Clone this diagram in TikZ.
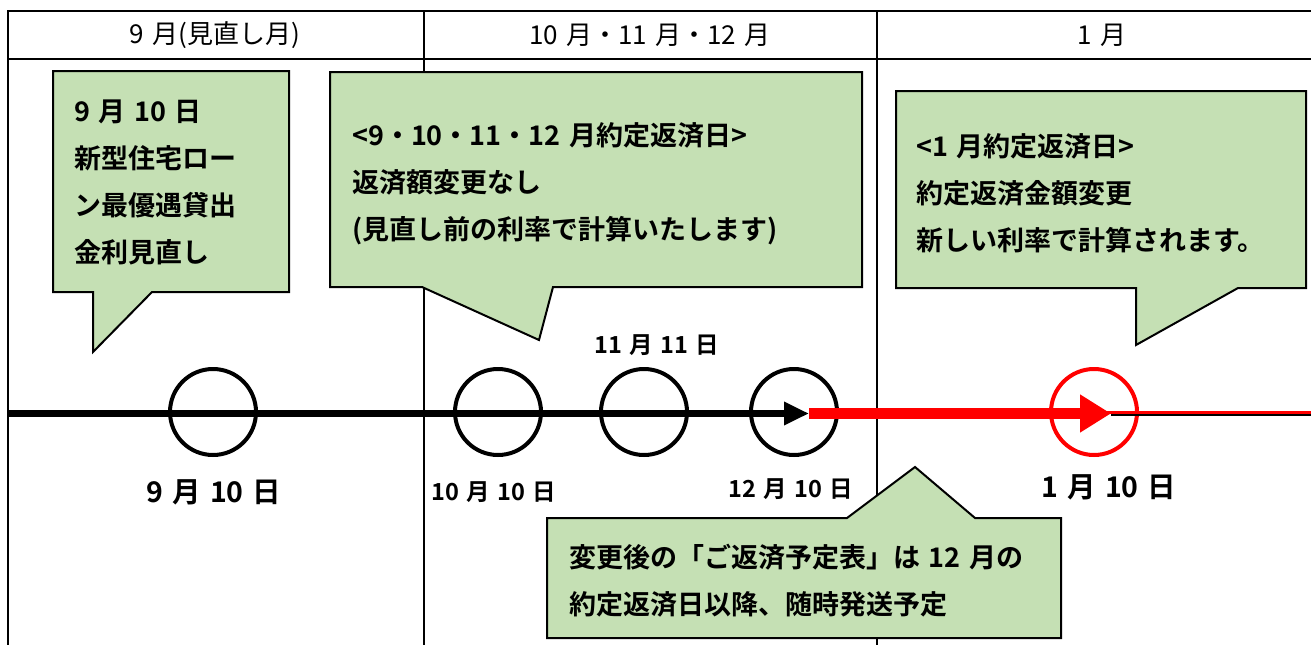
\documentclass[tikz,border=0pt]{standalone}
\usepackage{fontspec}
\setmainfont{Noto Sans CJK JP}[BoldFont={Noto Sans CJK JP Bold},WordSpace=1.4]
\usetikzlibrary{arrows.meta}
\definecolor{notegreen}{RGB}{197,224,180}

\begin{document}
\begin{tikzpicture}[x=1pt,y=-1pt,
        grid/.style={line width=2pt},
        callout/.style={draw=black,line width=2pt,fill=notegreen},
        day/.style={circle,draw,line width=4pt,minimum size=86pt,inner sep=0pt},
        note/.style={anchor=north west,inner sep=0pt,align=left,font=\bfseries\fontsize{27}{47}\selectfont},
        month/.style={inner sep=0pt,font=\fontsize{26}{26}\selectfont},
        biglabel/.style={inner sep=0pt,font=\bfseries\fontsize{28.5}{28.5}\selectfont},
        smalllabel/.style={inner sep=0pt,font=\bfseries\fontsize{23.5}{23.5}\selectfont}]
        \useasboundingbox (0,0) rectangle (1311,645);
        \draw[grid] (1311,11) -- (8,11) -- (8,645);
        \draw[grid] (8,59) -- (1311,59);
        \draw[grid] (424,11) -- (424,645);
        \draw[grid] (877,11) -- (877,645);
        \node[month] (m9) at (215,35) {9 月(見直し月)};
        \node[month] (m10) at (650,35) {10 月・11 月・12 月};
        \node[month] (m1) at (1102,35) {1 月};
        \draw[callout] (53,71) -- (289,71) -- (289,292) -- (152,292) -- (93,352) -- (93,292) -- (53,292) -- cycle;
        \draw[callout] (330,72) -- (862,72) -- (862,287) -- (553,287) -- (539,340) -- (422,287) -- (330,287) -- cycle;
        \draw[callout] (896,91) -- (1306,91) -- (1306,288) -- (1238,288) -- (1136,345) -- (1136,288) -- (896,288) -- cycle;
        \draw[callout] (547,518) -- (847,518) -- (915,467) -- (975,518) -- (1061,518) -- (1061,638) -- (547,638) -- cycle;
        \node[note] (n1) at (74,100) {9 月 10 日\\新型住宅ロー\\ン最優遇貸出\\金利見直し};
        \node[note] (n2) at (352,122) {<9・10・11・12 月約定返済日>\\返済額変更なし\\(見直し前の利率で計算いたします)};
        \node[note] (n3) at (916,133) {<1 月約定返済日>\\約定返済金額変更\\新しい利率で計算されます。};
        \node[note] (n4) at (569,544) {変更後の「ご返済予定表」は 12 月の\\約定返済日以降、随時発送予定};
        \node[day] (d1) at (213,412) {};
        \node[day] (d2) at (498,412) {};
        \node[day] (d3) at (644,412) {};
        \node[day] (d4) at (794,412) {};
        \node[day,draw=red] (d5) at (1094,412) {};
        \coordinate (t0) at (9,413.5);
        \coordinate (t1) at (809,413.5);
        \coordinate (t2) at (1111,413.5);
        \coordinate (t3) at (1311,413.5);
        \coordinate (r2) at (1100,412.5);
        \coordinate (r3) at (1311,412.5);
        \draw[line width=5pt] (t2) -- (t3);
        \draw[red,line width=3pt] (r2) -- (r3);
        \draw[line width=7pt,-{Triangle[length=25pt,width=22pt]}] (t0) -- (t1);
        \draw[red,line width=11pt,-{Triangle[length=31pt,width=36pt]}] (t1) -- (t2);
        \node[biglabel] (l1) at (214,492) {9 月 10 日};
        \node[smalllabel] (l2) at (494,492) {10 月 10 日};
        \node[smalllabel] (l3) at (657,345) {11 月 11 日};
        \node[smalllabel] (l4) at (791,489) {12 月 10 日};
        \node[biglabel] (l5) at (1109,487) {1 月 10 日};
    \end{tikzpicture}
\end{document}
